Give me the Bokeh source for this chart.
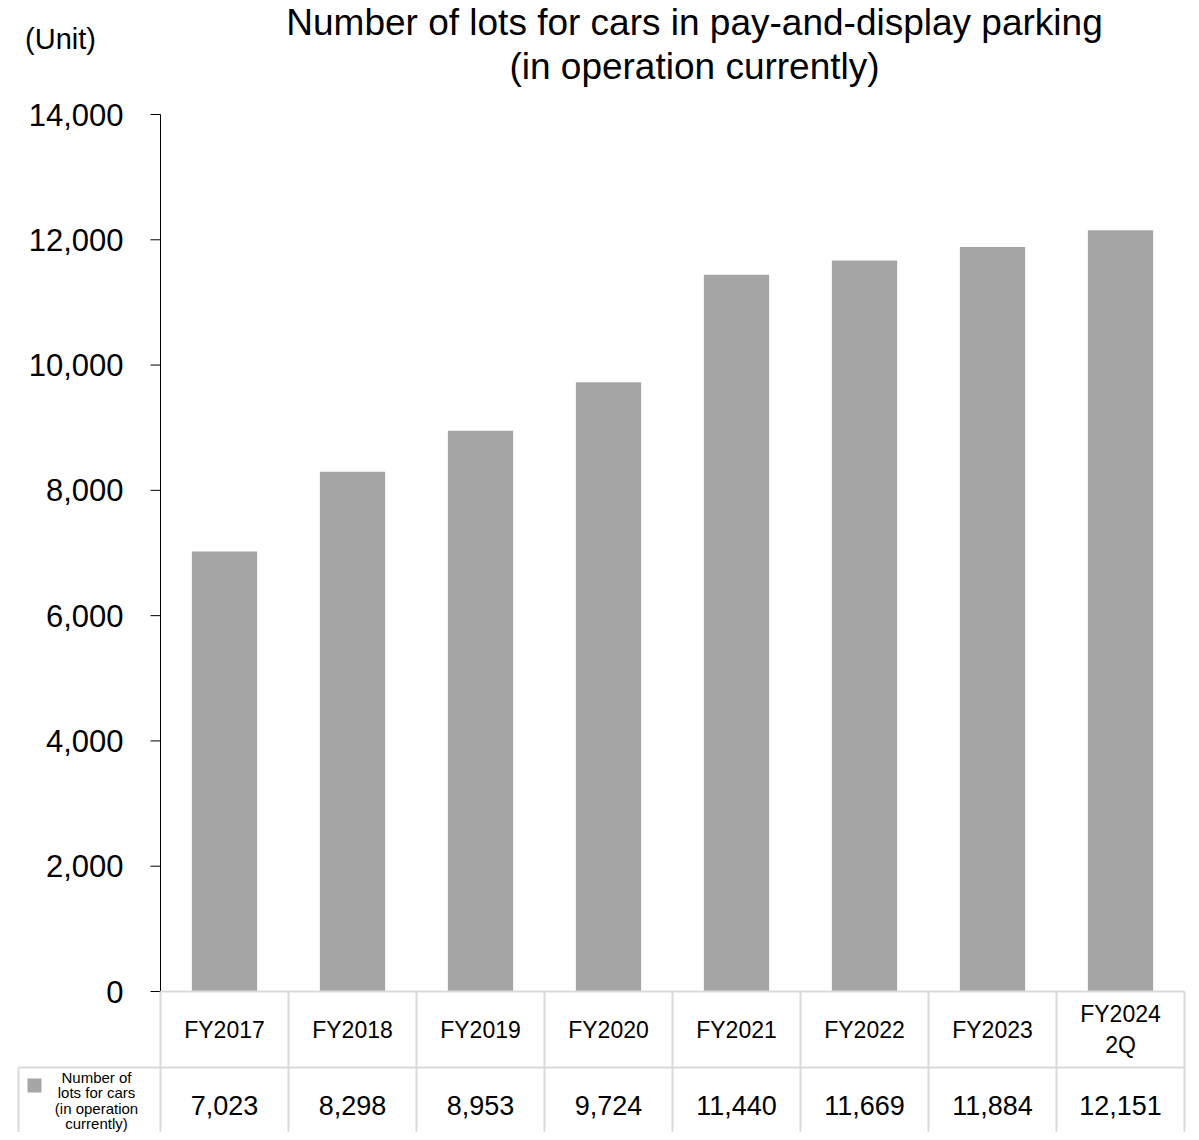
from bokeh.plotting import figure
from bokeh.models import Range1d, Label, ColumnDataSource
from bokeh.core.properties import value
from bokeh.embed import file_html
from bokeh.resources import INLINE

# ---------------- data ----------------
categories = ["FY2017", "FY2018", "FY2019", "FY2020", "FY2021", "FY2022", "FY2023", "FY2024\n2Q"]
lots = [7023, 8298, 8953, 9724, 11440, 11669, 11884, 12151]
y_ticks = [0, 2000, 4000, 6000, 8000, 10000, 12000, 14000]
series_name = "Number of\nlots for cars\n(in operation\ncurrently)"
title_text = "Number of lots for cars in pay-and-display parking\n(in operation currently)"
unit_text = "(Unit)"

# ---------------- layout helpers (canvas px -> data) ----------------
W, H = 1190, 1132
FRAME_L_PX, CAT_PX = 160, 128
ZERO_PX, TOP_PX = 991, 114
Y_MAX = 14000
PER_PX = Y_MAX / (ZERO_PX - TOP_PX)


def X(px):
    return (px - FRAME_L_PX) / CAT_PX


def Y(py):
    return (ZERO_PX - py) * PER_PX


ROW_SPLIT = Y(1067)
ROW1_MID = Y(1029)
ROW2_MID = Y(1105)
GRID_C = "#d9d9d9"
BAR_C = "#a5a5a5"
FONT = "Liberation Sans"

n = len(categories)
src = ColumnDataSource(dict(
    x=[i + 0.5 for i in range(n)],
    lots=lots,
    cat=categories,
    lab=[f"{v:,}" for v in lots],
))
tick_src = ColumnDataSource(dict(
    y=y_ticks,
    lab=[f"{t:,}" for t in y_ticks],
))

p = figure(width=W, height=H, x_range=Range1d(X(0), X(W)), y_range=Range1d(Y(H), Y(0)),
           x_axis_type=None, y_axis_type=None, output_backend="svg", toolbar_location=None,
           min_border_left=0, min_border_right=0, min_border_top=0, min_border_bottom=0)
p.outline_line_color = None
p.background_fill_color = "white"
p.border_fill_color = "white"

# bars
p.vbar(x="x", top="lots", bottom=0, width=0.51, source=src,
       fill_color=BAR_C, line_color=None)

# value axis (line, outward ticks, labels)
p.segment(x0=0, x1=0, y0=0, y1=Y_MAX, line_color="black", line_width=1)
p.segment(x0=X(150), x1=0, y0="y", y1="y", source=tick_src, line_color="black", line_width=1)
p.text(x=X(123), y="y", text="lab", source=tick_src, text_align="right", text_baseline="middle",
       text_font=value(FONT), text_font_size=value("31px"), text_color="black")

# data table lines
Y_LOW = Y(H + 20)
p.segment(x0=list(range(n + 1)), x1=list(range(n + 1)), y0=[0] * (n + 1), y1=[Y_LOW] * (n + 1),
          line_color=GRID_C, line_width=2)
p.segment(x0=[0, X(18)], x1=[n, n], y0=[0, ROW_SPLIT], y1=[0, ROW_SPLIT],
          line_color=GRID_C, line_width=2)
p.segment(x0=X(18), x1=X(18), y0=ROW_SPLIT, y1=Y_LOW, line_color=GRID_C, line_width=2)

# legend key in the table
p.quad(left=X(27), right=X(41), top=Y(1078), bottom=Y(1092), fill_color=BAR_C, line_color=None)
p.add_layout(Label(x=X(96), y=Y(1100), text=series_name, text_align="center",
                   text_baseline="middle", text_font=FONT, text_font_size="15px",
                   text_line_height=0.92, text_color="black"))

# table texts
p.text(x="x", y=ROW1_MID, text="cat", source=src, text_align="center", text_baseline="middle",
       text_font=value(FONT), text_font_size=value("23px"), text_color="black",
       text_line_height=1.17)
p.text(x="x", y=ROW2_MID, text="lab", source=src, text_align="center", text_baseline="middle",
       text_font=value(FONT), text_font_size=value("27px"), text_color="black")

# title and unit
p.add_layout(Label(x=X(694), y=Y(44), text=title_text, text_align="center", text_baseline="middle",
                   text_font=FONT, text_font_size="37px", text_line_height=1.07, text_color="black"))
p.add_layout(Label(x=X(60), y=Y(38), text=unit_text, text_align="center", text_baseline="middle",
                   text_font=FONT, text_font_size="29px", text_color="black"))

open("out.html", "w").write(file_html(p, INLINE))
